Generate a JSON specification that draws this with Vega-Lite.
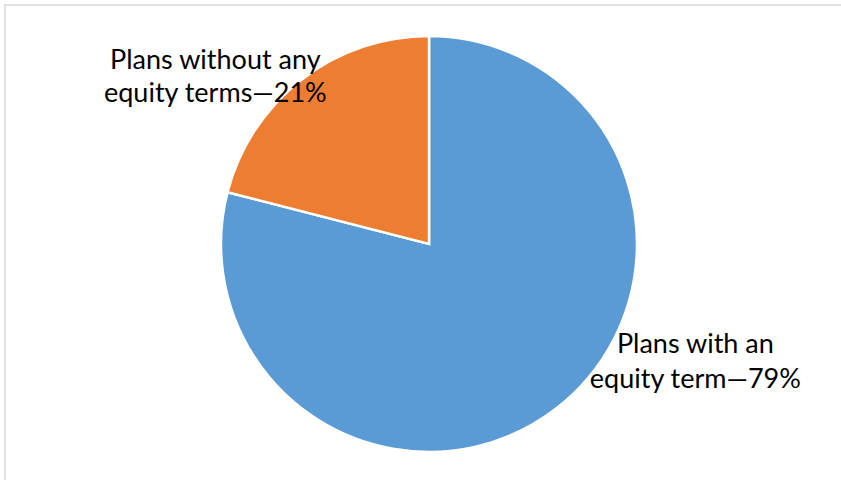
{
  "$schema": "https://vega.github.io/schema/vega-lite/v6.json",
  "width": 841,
  "height": 480,
  "autosize": {"type": "fit", "contains": "padding"},
  "padding": {"left": 5, "top": 5, "right": -12, "bottom": -3},
  "background": "white",
  "view": {"stroke": "#d9d9d9", "strokeWidth": 1.5},
  "config": {"view": {"stroke": "#d9d9d9", "strokeWidth": 1.5}},
  "data": {
    "values": [
      {"category": "Plans with an equity term", "share": 79, "order": 1, "label": "Plans with an\nequity term—79%"},
      {"category": "Plans without any equity terms", "share": 21, "order": 2, "label": "Plans without any\nequity terms—21%"}
    ]
  },
  "encoding": {
    "theta": {"field": "share", "type": "quantitative", "stack": true},
    "order": {"field": "order", "type": "quantitative"}
  },
  "layer": [
    {
      "mark": {"type": "arc", "outerRadius": 208, "stroke": "white", "strokeWidth": 2.5},
      "encoding": {
        "color": {
          "field": "category",
          "type": "nominal",
          "scale": {"domain": ["Plans with an equity term", "Plans without any equity terms"], "range": ["#5B9BD5", "#ED7D31"]},
          "legend": null
        }
      }
    },
    {
      "transform": [{"filter": "datum.order == 2"}],
      "mark": {"type": "text", "radius": 260, "dx": -373, "dy": 30, "align": "center", "baseline": "alphabetic", "lineBreak": "\n", "lineHeight": 33, "font": "Lato", "fontSize": 27, "color": "black"},
      "encoding": {"text": {"field": "label"}}
    },
    {
      "transform": [{"filter": "datum.order == 1"}],
      "mark": {"type": "text", "radius": 260, "dx": 107, "dy": -96, "align": "center", "baseline": "alphabetic", "lineBreak": "\n", "lineHeight": 35, "font": "Lato", "fontSize": 27, "color": "black"},
      "encoding": {"text": {"field": "label"}}
    }
  ]
}
